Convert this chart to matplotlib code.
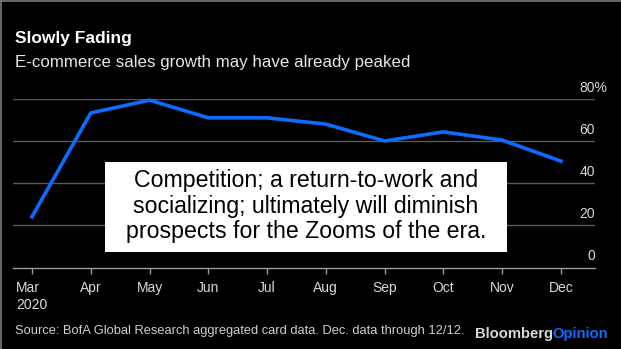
import matplotlib
matplotlib.use('Agg')
import matplotlib.pyplot as plt
import matplotlib.transforms as mtransforms
from matplotlib.lines import Line2D
from matplotlib.patches import Rectangle

plt.rcParams['font.family'] = ['Liberation Sans', 'DejaVu Sans']

# E-commerce sales growth (%)
months = ['Mar\n2020', 'Apr', 'May', 'Jun', 'Jul', 'Aug', 'Sep', 'Oct', 'Nov', 'Dec']
growth = [24.1, 73.5, 79.6, 71.2, 71.2, 68.2, 60.2, 64.5, 60.6, 50.6]
y_ticks = [0, 20, 40, 60, 80]
y_labels = ['0', '20', '40', '60', '80%']

title = 'Slowly Fading'
subtitle = 'E-commerce sales growth may have already peaked'
note = ('Competition; a return-to-work and\n'
        'socializing; ultimately will diminish\n'
        'prospects for the Zooms of the era.')
source = 'Source: BofA Global Research aggregated card data. Dec. data through 12/12.'

W, H = 621, 349
fig = plt.figure(figsize=(W / 100, H / 100), dpi=100, facecolor='black')

# axes box in pixels (left, top, right, bottom)
left, top, right, bottom = 13, 99.3, 595, 267.5
ax = fig.add_axes([left / W, 1 - bottom / H, (right - left) / W, (bottom - top) / H])
ax.set_facecolor('black')

x = list(range(len(months)))
ax.plot(x, growth, color='#0a6dff', linewidth=2.6, clip_on=False, zorder=3)

ax.set_xlim(-0.323, 9.58)
ax.set_ylim(0, 80)

# horizontal gridlines
for v in y_ticks[1:]:
    ax.axhline(v, color='#5a5a5a', linewidth=1.0, zorder=1)

for s in ['top', 'right', 'left']:
    ax.spines[s].set_visible(False)
ax.spines['bottom'].set_color('#9a9a9a')
ax.spines['bottom'].set_linewidth(1.0)

ax.set_xticks(x)
ax.set_xticklabels(months)
ax.tick_params(axis='x', colors='#9a9a9a', labelcolor='#d8d8d8', length=4, width=1,
               labelsize=10, pad=6)
ax.get_xticklabels()[0].set_multialignment('left')
ax.set_yticks([])

# y labels on the right, above their gridlines; the "%" hangs past the edge
trans = mtransforms.blended_transform_factory(ax.transAxes, ax.transData)
for v, lab in zip(y_ticks, y_labels):
    dx = 12.3 if lab.endswith('%') else 0
    off = mtransforms.ScaledTranslation(dx / 100, 4 / 100, fig.dpi_scale_trans)
    ax.text(1.0, v, lab, ha='right', va='bottom', color='#d8d8d8', fontsize=10,
            transform=trans + off)

# annotation box
fig.add_artist(Rectangle((105 / W, 1 - 252 / H), 402 / W, 90 / H, transform=fig.transFigure,
                         facecolor='white', edgecolor='none', zorder=4))
fig.text(306 / W, 1 - 206 / H, note, ha='center', va='center', fontsize=16.7, color='black',
         linespacing=1.15, zorder=5)

# titles
fig.text(15 / W, 1 - 39 / H, title, fontsize=12.5, fontweight='bold', color='white',
         ha='left', va='center', family=['Liberation Sans Narrow', 'Liberation Sans'])
fig.text(15 / W, 1 - 63 / H, subtitle, fontsize=12.2, color='#e6e6e6', ha='left', va='center')

# footer
fig.text(15 / W, 1 - 331 / H, source, fontsize=9.3, color='#cfcfcf', ha='left', va='center')
fig.text(475 / W, 1 - 334 / H, 'Bloomberg', fontsize=10.6, fontweight='bold',
         color='#d8d8d8', ha='left', va='center')
fig.text(552 / W, 1 - 334 / H, 'Opinion', fontsize=10.6, fontweight='bold',
         color='#0a6dff', ha='left', va='center')

# thin grey frame on top and left edges
fig.add_artist(Line2D([0, 1], [1 - 0.5 / H, 1 - 0.5 / H], transform=fig.transFigure,
                      color='#7a7a7a', linewidth=1.2))
fig.add_artist(Line2D([0.5 / W, 0.5 / W], [0, 1], transform=fig.transFigure,
                      color='#7a7a7a', linewidth=1.2))

fig.savefig('out.png', dpi=100, facecolor='black')
